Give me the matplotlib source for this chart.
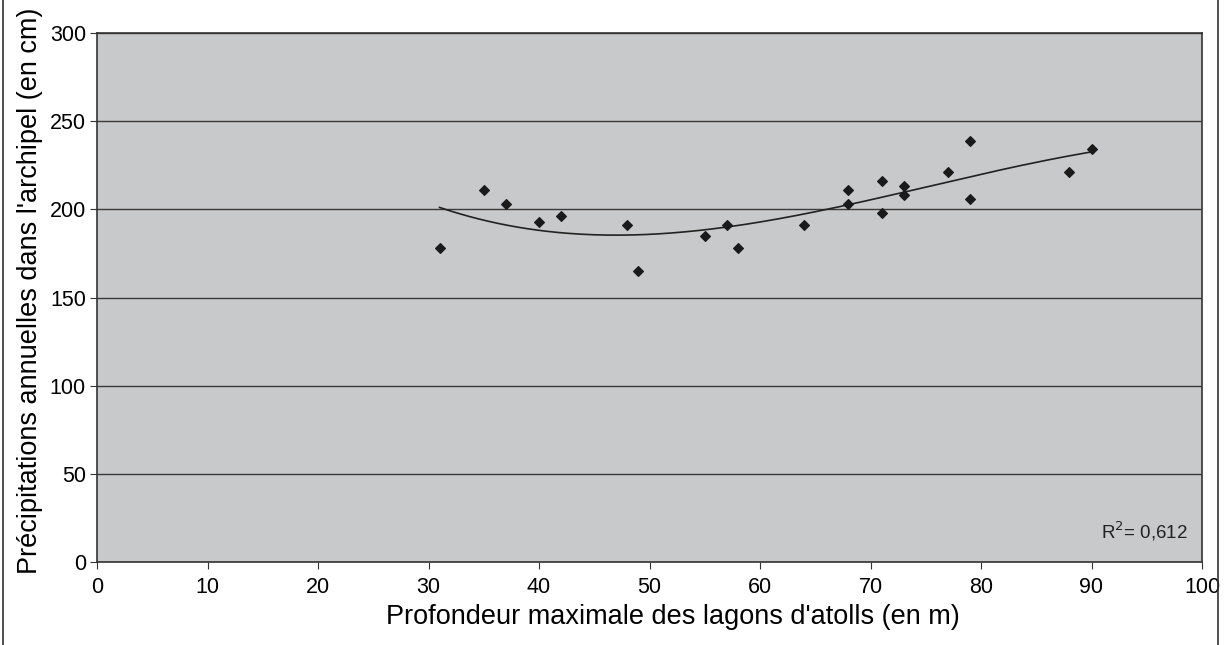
import numpy as np
import matplotlib
matplotlib.use("Agg")
import matplotlib.pyplot as plt
from matplotlib.lines import Line2D

plt.rcParams['font.family'] = ['Liberation Sans', 'DejaVu Sans']

depth = [31, 35, 37, 40, 42, 48, 49, 55, 57, 58, 64, 68, 68, 71, 71, 73, 73, 77, 79, 79, 88, 90]
rain = [178, 211, 203, 193, 196, 191, 165, 185, 191, 178, 191, 211, 203, 216, 198, 213, 208, 221, 239, 206, 221, 234]
xticks = [0, 10, 20, 30, 40, 50, 60, 70, 80, 90, 100]
yticks = [0, 50, 100, 150, 200, 250, 300]
r2_label = "R$^2$= 0,612"

fig = plt.figure(figsize=(12.29, 6.45), dpi=100)
ax = fig.add_axes([97/1229, 83/645, 1105/1229, 529/645])
ax.set_facecolor('#c8c9ca')

x = np.array(depth, dtype=float)
y = np.array(rain, dtype=float)
coef = np.polyfit(x, y, 3)
xs = np.linspace(x.min(), x.max(), 200)
ax.plot(xs, np.polyval(coef, xs), color='#222222', lw=1.2, zorder=3)
ax.scatter(x, y, marker='D', s=24, color='#1a1a1a', zorder=4)

ax.set_xlim(0, 100)
ax.set_ylim(0, 300)
ax.set_xticks(xticks)
ax.set_yticks(yticks)
ax.grid(axis='y', color='#3a3a3a', lw=1.0)
ax.set_axisbelow(True)
for s in ax.spines.values():
    s.set_color('#333333')
    s.set_linewidth(1.2)
ax.tick_params(axis='both', labelsize=15.5, length=5, color='#333333', direction='out')
ax.tick_params(axis='x', pad=6)
ax.tick_params(axis='y', pad=3)
ax.set_xlabel("Profondeur maximale des lagons d'atolls (en m)", fontsize=19.5, labelpad=4)
ax.set_ylabel("Précipitations annuelles dans l'archipel (en cm)", fontsize=19.5, labelpad=5)
ax.xaxis.label.set_x(0.521)
ax.yaxis.label.set_y(0.513)
ax.text(0.987, 0.035, r2_label, transform=ax.transAxes, ha='right', va='bottom', fontsize=13.5, color='#222222')

fig.add_artist(Line2D([2.5/1229, 2.5/1229], [0, 1], transform=fig.transFigure, color='#333333', lw=1.2))
fig.add_artist(Line2D([1218/1229, 1218/1229], [0, 1], transform=fig.transFigure, color='#333333', lw=1.2))

fig.savefig('out.png', dpi=100)
